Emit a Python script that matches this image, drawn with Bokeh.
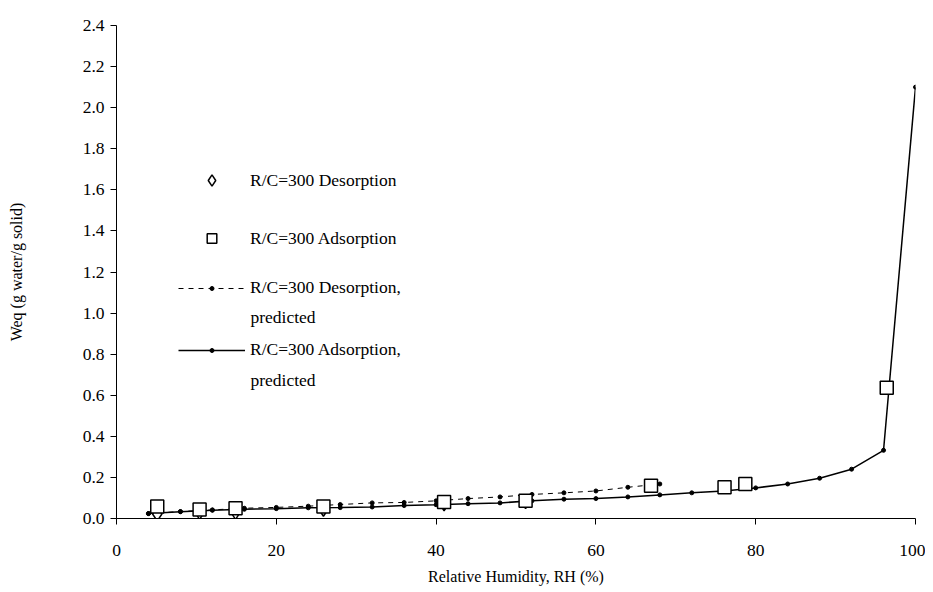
from bokeh.plotting import figure
from bokeh.models import Range1d, Legend, LegendItem, Label, FixedTicker, NumeralTickFormatter
from bokeh.embed import file_html
from bokeh.resources import INLINE

# ---- data ----
des_meas_x = [5.1, 10.4, 14.9, 25.9, 41.0, 51.2]
des_meas_y = [0.022, 0.030, 0.030, 0.045, 0.072, 0.082]

ads_meas_x = [5.1, 10.4, 14.9, 25.9, 41.0, 51.2, 66.9, 76.1, 78.7, 96.4]
ads_meas_y = [0.058, 0.044, 0.050, 0.058, 0.080, 0.087, 0.160, 0.152, 0.168, 0.636]

des_pred_x = [4, 8, 12, 16, 20, 24, 28, 32, 36, 40, 44, 48, 52, 56, 60, 64, 68]
des_pred_y = [0.024, 0.034, 0.042, 0.050, 0.054, 0.060, 0.068, 0.076, 0.078, 0.086,
              0.097, 0.105, 0.117, 0.125, 0.134, 0.152, 0.168]

ads_pred_x = [4, 8, 12, 16, 20, 24, 28, 32, 36, 40, 44, 48, 52, 56, 60, 64, 68,
              72, 76, 80, 84, 88, 92, 96, 100]
ads_pred_y = [0.024, 0.033, 0.040, 0.045, 0.048, 0.052, 0.053, 0.056, 0.063, 0.067,
              0.072, 0.076, 0.086, 0.094, 0.097, 0.105, 0.115, 0.125, 0.134, 0.149,
              0.168, 0.196, 0.240, 0.332, 2.10]

x_ticks = [0, 20, 40, 60, 80, 100]
y_ticks = [0.0, 0.2, 0.4, 0.6, 0.8, 1.0, 1.2, 1.4, 1.6, 1.8, 2.0, 2.2, 2.4]

label_des = "R/C=300 Desorption"
label_ads = "R/C=300 Adsorption"
label_des_pred = "R/C=300 Desorption,"
label_ads_pred = "R/C=300 Adsorption,"
label_second = "predicted"
x_title = "Relative Humidity, RH (%)"
y_title = "Weq (g water/g solid)"

FONT = "Liberation Serif"

W, H = 925, 592
BL, BR, BT, BB = 116, 10, 25, 74

p = figure(width=W, height=H, output_backend="svg", toolbar_location=None,
           x_range=Range1d(0, 100), y_range=Range1d(0, 2.4),
           min_border_left=BL, min_border_right=BR, min_border_top=BT,
           min_border_bottom=BB)
p.outline_line_color = None
p.xgrid.grid_line_color = None
p.ygrid.grid_line_color = None
p.background_fill_color = "white"

for ax in (p.xaxis[0], p.yaxis[0]):
    ax.axis_line_color = "black"
    ax.major_tick_line_color = "black"
    ax.minor_tick_line_color = None
    ax.major_tick_in = 0
    ax.major_tick_out = 6
    ax.major_label_text_font = FONT
    ax.major_label_text_font_size = "17.5px"
    ax.major_label_text_color = "black"
    ax.axis_label_text_font = FONT
    ax.axis_label_text_font_size = "16px"
    ax.axis_label_text_font_style = "normal"
    ax.axis_label_text_color = "black"

p.xaxis.ticker = FixedTicker(ticks=x_ticks)
p.yaxis.ticker = FixedTicker(ticks=y_ticks)
p.yaxis.formatter = NumeralTickFormatter(format="0.0")
p.xaxis.axis_label = x_title
p.yaxis.axis_label = y_title
p.xaxis.major_label_standoff = 20
p.xaxis.axis_label_standoff = 9
p.yaxis.major_label_standoff = 6
p.yaxis.axis_label_standoff = 55

# predicted lines
r_dl = p.line(des_pred_x, des_pred_y, line_color="black", line_width=1, line_dash="5 5")
r_dd = p.scatter(des_pred_x, des_pred_y, marker="circle", size=4, fill_color="black", line_color="black")
r_al = p.line(ads_pred_x, ads_pred_y, line_color="black", line_width=1.5)
r_ad = p.scatter(ads_pred_x, ads_pred_y, marker="circle", size=4, fill_color="black", line_color="black")

# measured
r_dm = p.scatter(des_meas_x, des_meas_y, marker="diamond", size=14,
                 fill_color="white", line_color="black", line_width=1.5)
r_am = p.scatter(ads_meas_x, ads_meas_y, marker="square", size=13, fill_color="white",
                 line_color="black", line_width=1.5)

frame_left = BL
frame_bottom = H - BB
px_per_x = (W - BL - BR) / 100.0
px_per_y = (H - BT - BB) / 2.4

def add_legend(renderers, label, center_y, gh):
    item_h = max(gh, 16)
    lg = Legend(items=[LegendItem(label=label, renderers=renderers)],
                location=(178 - frame_left, frame_bottom - (center_y - gh / 2 + item_h)),
                orientation="vertical", padding=0, margin=0, spacing=0,
                glyph_width=67, glyph_height=gh, label_height=gh, label_standoff=5,
                label_text_font=FONT, label_text_font_size="17.5px",
                label_text_color="black", border_line_alpha=0,
                background_fill_alpha=0)
    p.add_layout(lg, "center")

add_legend([r_dm], label_des, 180, 28)
add_legend([r_am], label_ads, 238, 24)
add_legend([r_dl, r_dd], label_des_pred, 287, 10)
add_legend([r_al, r_ad], label_ads_pred, 349, 10)

for cy in (316, 379):
    p.add_layout(Label(x=(250 - frame_left) / px_per_x, y=(frame_bottom - cy) / px_per_y,
                       text=label_second, text_font=FONT, text_font_size="17.5px",
                       text_color="black", text_baseline="middle", text_align="left"))

open("out.html", "w").write(file_html(p, INLINE))
